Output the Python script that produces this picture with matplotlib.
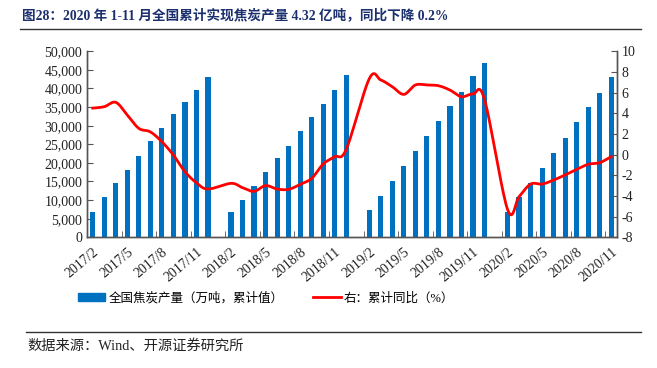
import numpy as np
import matplotlib.pyplot as plt
from matplotlib.lines import Line2D
from matplotlib.patches import Patch

plt.rcParams['font.family'] = ['Liberation Serif', 'Noto Sans CJK SC']
plt.rcParams['axes.unicode_minus'] = False

# months 2017/2 .. 2020/11 (January has no data)
months = [f"{y}/{m}" for y in range(2017, 2021) for m in range(1, 13)][1:47]

# cumulative coke output, 10k tonnes (None = January)
output = [6900, 10750, 14500, 18100, 21900, 25800, 29400, 33100, 36400, 39700, 43100,
          None, 6850, 10100, 13900, 17550, 21200, 24500, 28500, 32300, 35900, 39700, 43600,
          None, 7250, 11100, 15000, 19100, 23300, 27200, 31300, 35300, 39100, 43400, 46900,
          None, 6700, 10900, 14700, 18700, 22700, 26800, 31000, 34900, 38900, 43200]

# cumulative yoy, %
yoy = [4.5, 4.64, 5.06, 3.83, 2.54, 2.2, 1.25, -0.04, -1.65, -2.72, -3.33,
       None, -2.78, -3.2, -3.55, -3.0, -3.33, -3.36, -2.88, -2.3, -0.91, -0.2, 0.51,
       None, 7.35, 7.22, 6.57, 5.83, 6.74, 6.74, 6.67, 6.25, 5.6, 5.87, 5.35,
       None, -5.3, -4.07, -2.85, -2.85, -2.46, -1.97, -1.43, -0.94, -0.78, -0.2]


def smooth(x, y, n=20):
    # Catmull-Rom curve through the points, like Excel's smoothed line
    x = np.asarray(x, float)
    y = np.asarray(y, float)
    px = np.concatenate([[2 * x[0] - x[1]], x, [2 * x[-1] - x[-2]]])
    py = np.concatenate([[2 * y[0] - y[1]], y, [2 * y[-1] - y[-2]]])
    xs, ys = [], []
    t = np.linspace(0, 1, n, endpoint=False)
    for i in range(1, len(px) - 2):
        for p, out in ((px, xs), (py, ys)):
            p0, p1, p2, p3 = p[i - 1], p[i], p[i + 1], p[i + 2]
            out.extend(0.5 * (2 * p1 + (-p0 + p2) * t + (2 * p0 - 5 * p1 + 4 * p2 - p3) * t ** 2
                              + (-p0 + 3 * p1 - 3 * p2 + p3) * t ** 3))
    xs.append(x[-1])
    ys.append(y[-1])
    return xs, ys


fig = plt.figure(figsize=(6.57, 3.68), dpi=100)
ax = fig.add_axes([0.1324, 0.3552, 0.8067, 0.5054])
ax2 = ax.twinx()

idx = np.arange(len(months))
bar_vals = [np.nan if v is None else v for v in output]
ax.bar(idx, bar_vals, width=0.45, color='#0070C0', zorder=2)

lx = [i for i, v in zip(idx, yoy) if v is not None]
ly = [v for v in yoy if v is not None]
sx, sy = smooth(lx, ly)
ax2.plot(sx, sy, color='#FF0000', lw=2, zorder=3)

ax.set_xlim(-0.5, len(months) - 0.5)
ax.set_ylim(0, 50000)
ax.set_yticks(np.arange(0, 50001, 5000))
ax.set_yticklabels([f"{v:,}" for v in range(0, 50001, 5000)])
ax2.set_ylim(-8, 10)
ax2.set_yticks(np.arange(-8, 11, 2))

ax.set_xticks(idx[::3])
ax.set_xticklabels(months[::3], rotation=40, ha='right', rotation_mode='anchor')
ax.set_xticks(np.arange(-0.5, len(months), 3), minor=True)
ax.tick_params(axis='x', which='major', length=0, pad=6, labelsize=10, colors='#222222')
ax.tick_params(axis='x', which='minor', length=4, direction='in', color='#555555')
ax.tick_params(axis='y', direction='in', length=4, labelsize=10, colors='#222222', color='#555555')
ax2.tick_params(axis='y', direction='in', length=4, labelsize=10, colors='#222222', color='#555555')

for a in (ax, ax2):
    a.spines['top'].set_visible(False)
    for s in ('left', 'right', 'bottom'):
        a.spines[s].set_color('#555555')
        a.spines[s].set_linewidth(1)

handles = [Patch(color='#0070C0'), Line2D([], [], color='#FF0000', lw=2)]
fig.legend(handles, ['全国焦炭产量（万吨，累计值）', '右：累计同比（%）'],
           loc='center', bbox_to_anchor=(0.405, 0.19), ncol=2, frameon=False,
           fontsize=9, handlelength=2.2, handleheight=0.6, columnspacing=2.4,
           handletextpad=0.25)

fig.text(0.033, 0.958, '图28：2020 年 1-11 月全国累计实现焦炭产量 4.32 亿吨，同比下降 0.2%',
         fontsize=9.8, fontweight='bold', color='#1b2f6e', va='center', ha='left')
fig.add_artist(Line2D([0.03, 0.975], [0.921, 0.921], color='#333333', lw=1))
fig.add_artist(Line2D([0.04, 0.975], [0.097, 0.097], color='#333333', lw=1))
fig.text(0.041, 0.06, '数据来源：Wind、开源证券研究所', fontsize=10.3, color='#222222',
         va='center', ha='left')

fig.savefig('out.png', dpi=100)
